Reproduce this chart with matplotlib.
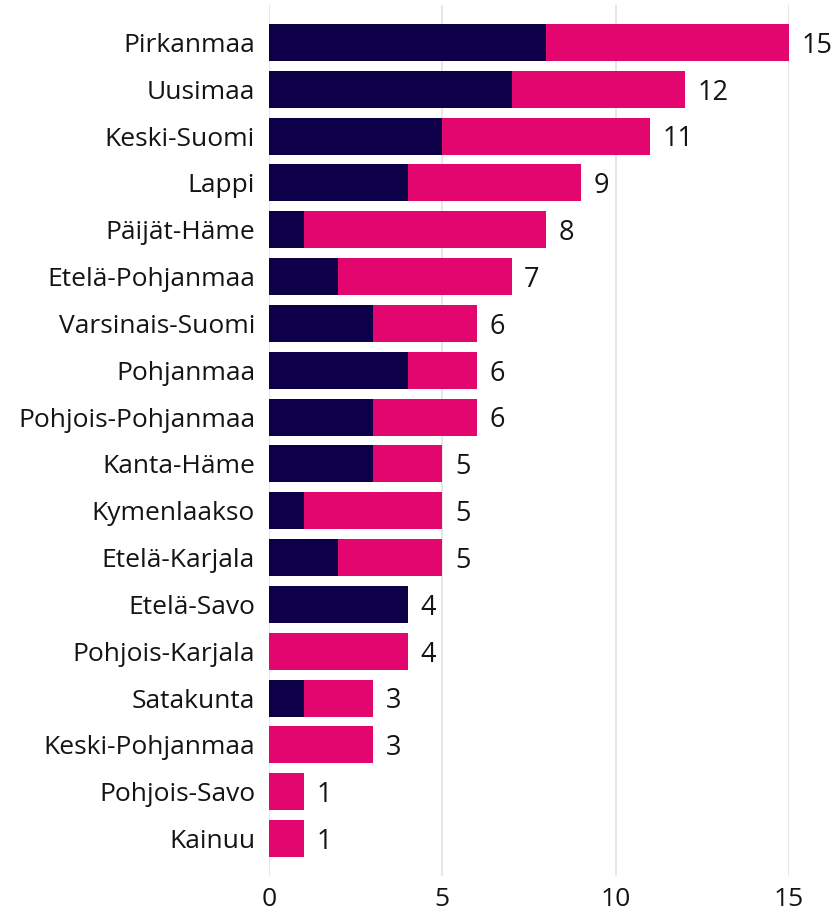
import matplotlib.pyplot as plt
import numpy as np

# alueet ylhäältä alas
regions = ["Pirkanmaa", "Uusimaa", "Keski-Suomi", "Lappi", "Päijät-Häme",
           "Etelä-Pohjanmaa", "Varsinais-Suomi", "Pohjanmaa", "Pohjois-Pohjanmaa",
           "Kanta-Häme", "Kymenlaakso", "Etelä-Karjala", "Etelä-Savo",
           "Pohjois-Karjala", "Satakunta", "Keski-Pohjanmaa", "Pohjois-Savo", "Kainuu"]
dark_values = [8, 7, 5, 4, 1, 2, 3, 4, 3, 3, 1, 2, 4, 0, 1, 0, 0, 0]
pink_values = [7, 5, 6, 5, 7, 5, 3, 2, 3, 2, 4, 3, 0, 4, 2, 3, 1, 1]
x_ticks = [0, 5, 10, 15]

dark_color = "#0E0048"
pink_color = "#E2066E"
text_color = "#141414"

plt.rcParams['font.family'] = ['Open Sans', 'DejaVu Sans']

fig = plt.figure(figsize=(8.39, 9.13), dpi=100)
ax = fig.add_axes([269 / 839, 1 - 876 / 913, (789 - 269) / 839, (876 - 5) / 913])

y = np.arange(len(regions))
dark = np.array(dark_values)
pink = np.array(pink_values)
totals = dark + pink

ax.barh(y, dark, height=0.79, color=dark_color, zorder=3)
ax.barh(y, pink, left=dark, height=0.79, color=pink_color, zorder=3)

for yi, t in zip(y, totals):
    ax.text(t + 0.36, yi + 0.07, str(t), va="center", ha="left",
            fontsize=19.5, color=text_color, clip_on=False)

ax.set_yticks(y)
ax.set_yticklabels(regions, fontsize=19, color=text_color)
ax.set_xticks(x_ticks)
ax.set_xticklabels([str(v) for v in x_ticks], fontsize=19, color=text_color)
ax.tick_params(axis="both", length=0)
ax.tick_params(axis="y", pad=10)
ax.tick_params(axis="x", pad=8)

ax.set_xlim(0, 15)
ax.set_ylim(17.8, -0.8)
ax.grid(axis="x", color="#E2E2E2", linewidth=1.2, zorder=0)
for s in ax.spines.values():
    s.set_visible(False)

fig.savefig("out.png", dpi=100)
